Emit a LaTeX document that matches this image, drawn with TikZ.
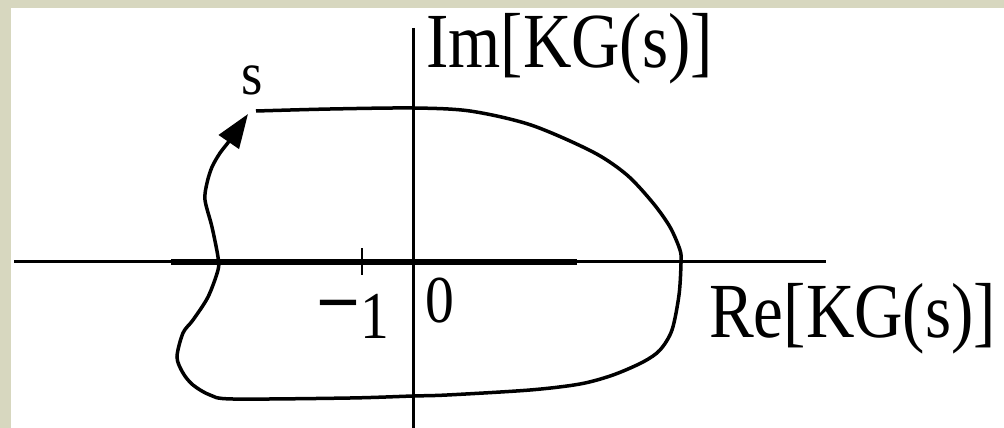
\documentclass[tikz,border=0pt]{standalone}
\usepackage{fontspec}
\setmainfont{Liberation Serif}
\usepackage{graphicx}
\usepackage{tikz}
\usetikzlibrary{arrows.meta}
\definecolor{Frame}{HTML}{D7D7BF}
\definecolor{Ink}{HTML}{000000}
\tikzset{
 axis/.style={line width=3pt,draw=Ink},
 thickaxis/.style={line width=5.5pt,draw=Ink},
 locus/.style={line width=3.5pt,draw=Ink,-{Triangle[length=34pt,width=24pt]}},
 lbl/.style={font=\fontsize{78}{80}\selectfont,inner sep=0pt,xscale=0.86},
 num/.style={font=\fontsize{67}{70}\selectfont,inner sep=0pt,xscale=0.86}
}
\begin{document}
\begin{tikzpicture}[x=1pt,y=-1pt]
\useasboundingbox (0,0) rectangle (1004,428);
\fill[Frame] (0,0) rectangle (1004,428);
\fill[white] (11,8) rectangle (1004,428);
% axes
\coordinate (re0) at (14,261);
\coordinate (re1) at (826,261);
\coordinate (im0) at (413,28);
\coordinate (im1) at (413,428);
\draw[axis] (re0) -- (re1);
\draw[thickaxis] (171,262) -- (577,262);
\draw[axis] (im0) -- (im1);
\draw[line width=2.5pt] (362,248) -- (362,275);
% labels
\node[lbl,anchor=base west] (imlab) at (426,68) {Im[KG(s)]};
\node[lbl,anchor=base west] (relab) at (709,337) {Re[KG(s)]};
\node[num,anchor=base east] (minus) at (389,338) {\scalebox{1.35}[1.6]{−}1};
\node[num,anchor=base west] (zero) at (425,322) {0};
\node[font=\fontsize{61}{64}\selectfont,inner sep=0pt,xscale=0.9,anchor=base west] (slab) at (241,95) {s};
% locus
\draw[locus] plot[smooth,tension=0.5] coordinates {
 (256,111) (330,109) (413,108) (470,111) (531,125) (593,152) (627,175)
 (653,203) (670,227) (680,250) (681,263) (679,295) (672,330) (660,350)
 (643,362) (613,375) (580,384) (530,390) (447,395) (413,396) (350,398)
 (233,399) (210,395) (193,385) (183,373) (177,357) (183,333) (193,320)
 (208,297) (218,270) (218,257) (212,227) (205,200) (207,183) (212,167)
 (220,153) (230,140) (248,114)};
\end{tikzpicture}
\end{document}
